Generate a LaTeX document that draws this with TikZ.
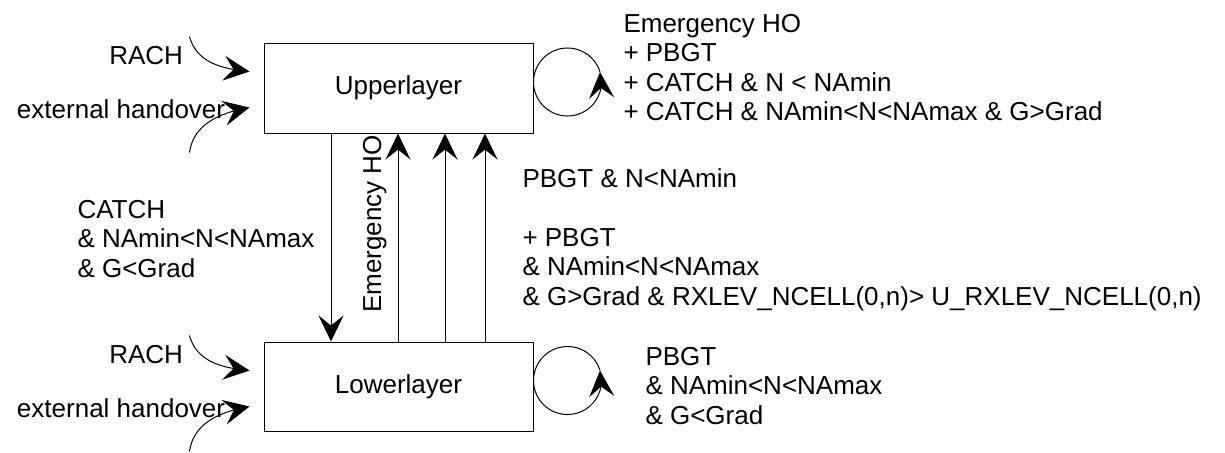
\documentclass[tikz,border=0pt]{standalone}
\usepackage{fontspec}
\setmainfont{Liberation Sans}
\usetikzlibrary{arrows.meta,bending,calc}
\tikzset{
  layer/.style={draw,minimum width=134.5pt,minimum height=45pt,inner sep=0pt},
  arr/.style={-{Stealth[length=13pt,width=12.5pt,inset=5pt]}},
  cond/.style={align=left,inner sep=0pt}
}
\begin{document}
\begin{tikzpicture}[x=0.5pt,y=0.5pt,line width=0.5pt,font=\fontsize{13}{14.6}\selectfont]
            \useasboundingbox (0,0) rectangle (1225,-452);
            \node[layer] (upper) at (398.5,-88) {Upperlayer};
            \node[layer,minimum height=44.5pt] (lower) at (398.5,-386.5) {Lowerlayer};
            \foreach \b in {upper,lower} {
                \coordinate (\b-rachA) at ($(\b.north west)+(-74,6)$);
                \coordinate (\b-rachB) at ($(\b.north west)+(-14,-29)$);
                \coordinate (\b-extA) at ($(\b.north west)+(-74,-110)$);
                \coordinate (\b-extB) at ($(\b.north west)+(-14,-65)$);
                \draw[arr] (\b-rachA) to[out=-75,in=175] (\b-rachB);
                \draw[arr] (\b-extA) to[out=82,in=190] (\b-extB);
                \node[inner sep=0pt,anchor=base east] (\b-rach) at ($(\b.north west)+(-80,-22)$) {RACH};
                \node[inner sep=0pt,anchor=base west] (\b-ext) at ($(\b.north west)+(-247,-76)$) {external handover};
                \draw[arr] ([shift={(17pt,3pt)}]\b.east) ++(17:34) arc[start angle=17,end angle=377,radius=34];
            }
            \draw[arr] ([xshift=-33.75pt]upper.south) -- ([xshift=-33.75pt]lower.north);
            \foreach \dx in {-0.25,23.25,43.25}
                \draw[arr] ([xshift=\dx pt]lower.north) -- ([xshift=\dx pt]upper.south);
            \node[rotate=90,anchor=base,inner sep=0pt] (emho) at (381,-224) {Emergency HO};
            \node[cond,anchor=north west] (upcond) at (623,-14) {Emergency HO\\+ PBGT\\+ CATCH \& N < NAmin\\+ CATCH \& NAmin<N<NAmax \& G>Grad};
            \node[cond,anchor=base west] (pbgt) at (522,-187) {PBGT \& N<NAmin};
            \node[cond,anchor=north west] (upgo) at (522,-228) {+ PBGT\\\& NAmin<N<NAmax\\\& G>Grad \& RXLEV\_NCELL(0,n)> U\_RXLEV\_NCELL(0,n)};
            \node[cond,anchor=north west] (catch) at (77,-200) {CATCH\\\& NAmin<N<NAmax\\\& G<Grad};
            \node[cond,anchor=north west] (lowcond) at (645,-347) {PBGT\\\& NAmin<N<NAmax\\\& G<Grad};
        \end{tikzpicture}
\end{document}
